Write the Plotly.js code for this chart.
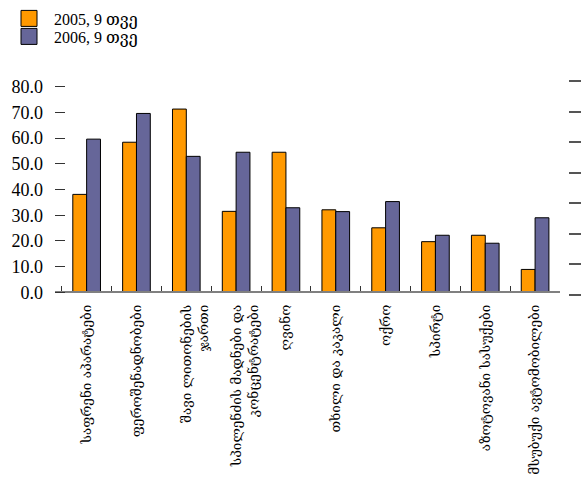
<!DOCTYPE html>
<html>
<head>
<meta charset="utf-8">
<script src="https://cdn.plot.ly/plotly-3.0.1.min.js"></script>
<style>
  html, body { margin: 0; padding: 0; background: #ffffff; }
  #chart { width: 581px; height: 479px; }
</style>
</head>
<body>
<div id="chart"></div>
<script>
// Export categories (Georgian), Jan–Sep of each year.
// Two-line names start with a blank line so the first line sits on the category centre.
const categories = [
  'საფრენი აპარატები',
  'ფეროშენადნობები',
  '&nbsp;<br>შავი ლითონების<br>ჯართი',
  '&nbsp;<br>სპილენძის მადნები და<br>კონცენტრატები',
  'ღვინო',
  'თხილი და კაკალი',
  'ოქრო',
  'სპირტი',
  'აზოტოვანი სასუქები',
  'მსუბუქი ავტომობილები'
];
const seriesNames = ['2005, 9 თვე', '2006, 9 თვე'];
const values2005 = [38.1, 58.4, 71.3, 31.5, 54.5, 32.1, 25.1, 19.7, 22.2, 8.9];
const values2006 = [59.6, 69.6, 52.9, 54.5, 32.9, 31.4, 35.3, 22.2, 19.1, 29.0];

const ORANGE = '#FF9900';
const PURPLE = '#666699';
const SERIF = '"Liberation Serif", "DejaVu Serif", serif';
const GEO = '"DejaVu Serif", "DejaVu Sans", serif';

const barLine = { color: '#000000', width: 1 };

const traces = [
  { type: 'bar', x: categories, y: values2005, name: seriesNames[0],
    marker: { color: ORANGE, line: barLine }, showlegend: false, hoverinfo: 'y' },
  { type: 'bar', x: categories, y: values2006, name: seriesNames[1],
    marker: { color: PURPLE, line: barLine }, showlegend: false, hoverinfo: 'y' },
  // legend keys with larger square swatches, one per legend box
  { type: 'scatter', mode: 'markers', x: [null], y: [null], name: seriesNames[0],
    legend: 'legend',
    marker: { symbol: 'square', size: 16, color: ORANGE, line: barLine }, hoverinfo: 'skip' },
  { type: 'scatter', mode: 'markers', x: [null], y: [null], name: seriesNames[1],
    legend: 'legend2',
    marker: { symbol: 'square', size: 16, color: PURPLE, line: barLine }, hoverinfo: 'skip' },
  // right-hand tick scale
  { type: 'scatter', mode: 'markers', x: [], y: [], yaxis: 'y2', showlegend: false, hoverinfo: 'skip' }
];

const legendStyle = (y) => ({
  xref: 'paper', yref: 'paper',
  x: -0.0994, y: y, xanchor: 'left', yanchor: 'top',
  bgcolor: 'rgba(0,0,0,0)',
  borderwidth: 0,
  font: { family: SERIF, size: 16, color: '#000000' },
  itemsizing: 'trace',
  itemwidth: 40
});

const layout = {
  width: 581,
  height: 479,
  margin: { l: 55, r: 13, t: 79, b: 184, autoexpand: false },
  paper_bgcolor: '#ffffff',
  plot_bgcolor: '#ffffff',
  barmode: 'group',
  bargap: 0.445,
  bargroupgap: 0,
  font: { family: SERIF, size: 16, color: '#000000' },
  showlegend: true,
  legend: legendStyle(1.3588),
  legend2: legendStyle(1.2755),
  xaxis: {
    type: 'category',
    domain: [0, 505 / 513],
    range: [-0.635, 9.5],
    anchor: 'free',
    position: 0.0125,
    showline: true,
    linecolor: '#808080',
    linewidth: 2,
    ticks: 'inside',
    tickson: 'boundaries',
    ticklen: 5,
    tickwidth: 1,
    tickcolor: '#333333',
    tickangle: -90,
    ticklabelstandoff: 6,
    tickfont: { family: GEO, size: 13.5, color: '#000000' },
    showgrid: false,
    zeroline: false,
    automargin: false,
    fixedrange: true
  },
  yaxis: {
    range: [-1.05, 83.0],
    tick0: 0,
    dtick: 10,
    tickformat: '.1f',
    ticks: 'inside',
    ticklen: 10,
    tickwidth: 1,
    tickcolor: '#333333',
    ticklabelstandoff: 11,
    tickfont: { family: SERIF, size: 18, color: '#000000' },
    showgrid: false,
    zeroline: false,
    showline: false,
    automargin: false,
    fixedrange: true
  },
  yaxis2: {
    overlaying: 'y',
    anchor: 'free',
    position: 1,
    side: 'right',
    range: [0, 7.066],
    dtick: 1,
    ticks: 'outside',
    ticklen: 12,
    tickwidth: 2,
    tickcolor: '#555555',
    showticklabels: false,
    showgrid: false,
    zeroline: false,
    showline: false,
    automargin: false,
    fixedrange: true
  }
};

Plotly.newPlot('chart', traces, layout, { displayModeBar: false, staticPlot: true });
</script>
</body>
</html>
